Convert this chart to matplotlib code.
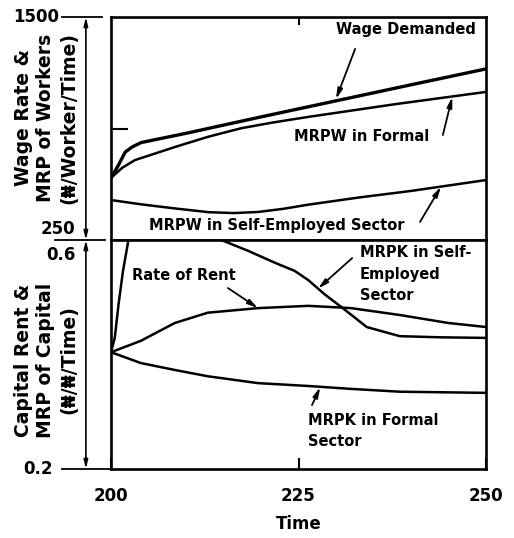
import matplotlib
matplotlib.use("Agg")
import matplotlib.pyplot as plt

# top panel: wage rate & MRP of workers
t_wage = [200, 201, 201.9, 202.8, 204, 210, 220, 230, 240, 250]
wage_demanded = [598, 670, 743, 771, 796, 848, 940, 1030, 1120, 1209]

t_mrpw_formal = [200, 201.5, 203.2, 208.5, 212.9, 217.3, 221.5, 226.3, 238, 250]
mrpw_formal = [598, 655, 698, 771, 828, 876, 908, 940, 1012, 1080]

t_mrpw_self = [200, 204, 208.5, 213, 216.3, 219.6, 223, 226.3, 233, 240, 250]
mrpw_self = [474, 450, 427, 406, 401, 407, 425, 448, 488, 525, 586]

# bottom panel: capital rent & MRP of capital
t_rent = [200, 204, 208.5, 212.9, 219.6, 226.3, 232, 238.5, 245, 250]
rent = [0.404, 0.424, 0.455, 0.473, 0.481, 0.485, 0.481, 0.469, 0.455, 0.448]

t_mrpk_self = [200, 200.5, 201, 201.6, 202.3, 205, 210, 214.7, 218.3, 221.9,
               224.5, 226.3, 228.5, 230.9, 234.1, 238.5, 244, 250]
mrpk_self = [0.404, 0.429, 0.487, 0.546, 0.598, 0.66, 0.67, 0.600, 0.581, 0.560,
             0.546, 0.530, 0.505, 0.481, 0.448, 0.432, 0.430, 0.429]

t_mrpk_formal = [200, 204, 208.5, 212.9, 219.6, 226.3, 231.9, 238.5, 250]
mrpk_formal = [0.404, 0.385, 0.373, 0.362, 0.350, 0.345, 0.340, 0.335, 0.333]

x_ticks = [200, 225, 250]
top_range = [250, 1500]
bot_range = [0.2, 0.6]

FS = 10.5
plt.rcParams['font.family'] = ['DejaVu Sans']
plt.rcParams['font.weight'] = 'bold'

fig = plt.figure(figsize=(5.14, 5.38), dpi=100)
L, W = 111 / 514, 375 / 514
ax1 = fig.add_axes([L, 1 - 240 / 538, W, 223 / 538])
ax2 = fig.add_axes([L, 1 - 469 / 538, W, 229 / 538])

for ax in (ax1, ax2):
    for s in ax.spines.values():
        s.set_linewidth(1.9)
    ax.set_xlim(200, 250)

ax1.set_ylim(*top_range)
ax2.set_ylim(*bot_range)

ax1.plot(t_wage, wage_demanded, color='black', lw=2.4, solid_joinstyle='round')
ax1.plot(t_mrpw_formal, mrpw_formal, color='black', lw=1.8, solid_joinstyle='round')
ax1.plot(t_mrpw_self, mrpw_self, color='black', lw=1.8, solid_joinstyle='round')

ax2.plot(t_rent, rent, color='black', lw=1.8, solid_joinstyle='round')
ax2.plot(t_mrpk_self, mrpk_self, color='black', lw=1.8, solid_joinstyle='round')
ax2.plot(t_mrpk_formal, mrpk_formal, color='black', lw=1.8, solid_joinstyle='round')

# ticks
ax1.set_xticks([225])
ax1.tick_params(axis='x', which='both', bottom=False, top=True, labelbottom=False,
                direction='in', length=6, width=1.5)
ax1.set_yticks([875])
ax1.tick_params(axis='y', direction='in', length=12, width=1.5, labelleft=False)

ax2.set_xticks(x_ticks)
ax2.tick_params(axis='x', direction='in', length=8, width=1.5, pad=13, labelsize=12)
ax2.set_yticks([])
ax2.set_xlabel('Time', fontsize=12, fontweight='bold', labelpad=7)

# y-axis value labels with the offset reference lines
ty1 = ax1.get_yaxis_transform()
ty2 = ax2.get_yaxis_transform()
ax1.plot([-0.131, -0.024], [1500, 1500], color='black', lw=1.3, transform=ty1, clip_on=False)
ax1.plot([-0.149, -0.016], [250, 250], color='black', lw=1.3, transform=ty1, clip_on=False)
ax2.plot([-0.131, 0], [0.2, 0.2], color='black', lw=1.3, transform=ty2, clip_on=False)
ax1.text(-0.137, 1500, '1500', transform=ty1, ha='right', va='center', fontsize=12)
ax1.text(-0.095, 309, '250', transform=ty1, ha='right', va='center', fontsize=12)
ax2.text(-0.095, 0.573, '0.6', transform=ty2, ha='right', va='center', fontsize=12)
ax2.text(-0.155, 0.2, '0.2', transform=ty2, ha='right', va='center', fontsize=12)

# double-headed span arrows
for ax in (ax1, ax2):
    ax.annotate('', xy=(-0.067, 0.0), xytext=(-0.067, 1.0), xycoords='axes fraction',
                textcoords='axes fraction',
                arrowprops=dict(arrowstyle='<|-|>,head_length=0.5,head_width=0.12',
                                color='black', lw=1.2, shrinkA=0, shrinkB=0))

fig.text(46 / 514, 1 - 118 / 538, 'Wage Rate &\nMRP of Workers\n(₦/Worker/Time)',
         rotation=90, ha='center', va='center', fontsize=13.5, linespacing=1.25)
fig.text(46 / 514, 1 - 360 / 538, 'Capital Rent &\nMRP of Capital\n(₦/₦/Time)',
         rotation=90, ha='center', va='center', fontsize=13.5, linespacing=1.25)

arrow = dict(arrowstyle='-|>,head_length=0.6,head_width=0.15', color='black', lw=1.3,
             shrinkA=0, shrinkB=0)

# top panel notes
ax1.text(0.787, 0.942, 'Wage Demanded', transform=ax1.transAxes, ha='center', va='center', fontsize=FS)
ax1.annotate('', xy=(230, 1040), xytext=(0.651, 0.857), textcoords='axes fraction', arrowprops=arrow)

ax1.text(0.667, 0.462, 'MRPW in Formal', transform=ax1.transAxes, ha='center', va='center', fontsize=FS)
ax1.annotate('', xy=(245.5, 1052), xytext=(0.885, 0.471), textcoords='axes fraction', arrowprops=arrow)

ax1.text(0.443, 0.067, 'MRPW in Self-Employed Sector', transform=ax1.transAxes, ha='center',
         va='center', fontsize=FS)
ax1.annotate('', xy=(244, 549), xytext=(0.824, 0.081), textcoords='axes fraction', arrowprops=arrow)

# bottom panel notes
ax2.text(0.195, 0.847, 'Rate of Rent', transform=ax2.transAxes, ha='center', va='center', fontsize=FS)
ax2.annotate('', xy=(219.6, 0.481), xytext=(0.312, 0.790), textcoords='axes fraction', arrowprops=arrow)

ax2.text(0.664, 0.978, 'MRPK in Self-\nEmployed\nSector', transform=ax2.transAxes, ha='left',
         va='top', fontsize=FS, linespacing=1.55)
ax2.annotate('', xy=(227.6, 0.515), xytext=(0.643, 0.921), textcoords='axes fraction', arrowprops=arrow)

ax2.text(0.525, 0.245, 'MRPK in Formal\nSector', transform=ax2.transAxes, ha='left', va='top',
         fontsize=FS, linespacing=1.5)
ax2.annotate('', xy=(227.9, 0.343), xytext=(0.536, 0.279), textcoords='axes fraction', arrowprops=arrow)

fig.savefig('out.png', dpi=100, facecolor='white')
